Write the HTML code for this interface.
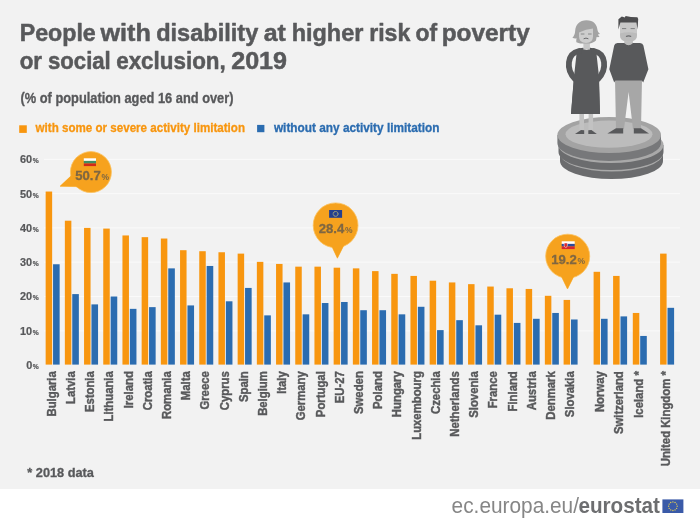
<!DOCTYPE html>
<html lang="en"><head><meta charset="utf-8"><title>People with disability at higher risk of poverty or social exclusion, 2019</title>
<style>html,body{margin:0;padding:0;background:#fff;}body{width:700px;height:524px;overflow:hidden;}svg{display:block;}text{font-family:"Liberation Sans",sans-serif;}</style></head><body>
<svg width="700" height="524" viewBox="0 0 700 524">
<rect x="0" y="0" width="700" height="489" fill="#f2f2f2"/>
<rect x="0" y="489" width="700" height="35" fill="#ffffff"/>
<g fill="#58595b" font-weight="bold">
<text y="41.2" font-size="24" stroke="#58595b" stroke-width="0.5" stroke-linejoin="round"><tspan x="19.70" textLength="76.10" lengthAdjust="spacingAndGlyphs">People</tspan> <tspan x="100.45" textLength="50.35" lengthAdjust="spacingAndGlyphs">with</tspan> <tspan x="156.20" textLength="102.10" lengthAdjust="spacingAndGlyphs">disability</tspan> <tspan x="263.70" textLength="22.10" lengthAdjust="spacingAndGlyphs">at</tspan> <tspan x="291.70" textLength="71.60" lengthAdjust="spacingAndGlyphs">higher</tspan> <tspan x="369.20" textLength="41.10" lengthAdjust="spacingAndGlyphs">risk</tspan> <tspan x="415.45" textLength="21.60" lengthAdjust="spacingAndGlyphs">of</tspan> <tspan x="441.70" textLength="88.10" lengthAdjust="spacingAndGlyphs">poverty</tspan></text>
<text y="68.5" font-size="24" stroke="#58595b" stroke-width="0.5" stroke-linejoin="round"><tspan x="19.70" textLength="22.35" lengthAdjust="spacingAndGlyphs">or</tspan> <tspan x="47.95" textLength="62.85" lengthAdjust="spacingAndGlyphs">social</tspan> <tspan x="116.20" textLength="109.60" lengthAdjust="spacingAndGlyphs">exclusion,</tspan> <tspan x="231.20" textLength="55.85" lengthAdjust="spacingAndGlyphs">2019</tspan></text>
<text x="20.5" y="103.3" font-size="13.8" textLength="213" lengthAdjust="spacingAndGlyphs" stroke="#58595b" stroke-width="0.3">(% of population aged 16 and over)</text>
<text x="27.3" y="476.6" font-size="12.3" textLength="66.6" lengthAdjust="spacingAndGlyphs" stroke="#58595b" stroke-width="0.3">* 2018 data</text>
</g>
<rect x="19.2" y="125.3" width="7.6" height="7.6" fill="#f8960f"/>
<text x="35.6" y="132.2" font-size="12.6" textLength="209.4" lengthAdjust="spacingAndGlyphs" font-weight="bold" fill="#f8960f" stroke="#f8960f" stroke-width="0.3">with some or severe activity limitation</text>
<rect x="257.1" y="124.9" width="7.3" height="7.3" fill="#2b6cb0"/>
<text x="273.9" y="132.2" font-size="12.6" textLength="165.6" lengthAdjust="spacingAndGlyphs" font-weight="bold" fill="#2b6cb0" stroke="#2b6cb0" stroke-width="0.3">without any activity limitation</text>
<g stroke="#fafafa" stroke-width="1">
<line x1="44" x2="680" y1="330.8" y2="330.8"/>
<line x1="44" x2="680" y1="296.5" y2="296.5"/>
<line x1="44" x2="680" y1="262.2" y2="262.2"/>
<line x1="44" x2="680" y1="227.9" y2="227.9"/>
<line x1="44" x2="680" y1="193.6" y2="193.6"/>
<line x1="44" x2="680" y1="159.3" y2="159.3"/>
</g>
<g fill="#58595b" font-weight="bold" stroke="#58595b" stroke-width="0.2">
<text x="32.2" y="369.0" text-anchor="end" font-size="10.9">0</text><text x="32.7" y="369.0" font-size="6.7">%</text>
<text x="32.2" y="334.7" text-anchor="end" font-size="10.9">10</text><text x="32.7" y="334.7" font-size="6.7">%</text>
<text x="32.2" y="300.4" text-anchor="end" font-size="10.9">20</text><text x="32.7" y="300.4" font-size="6.7">%</text>
<text x="32.2" y="266.1" text-anchor="end" font-size="10.9">30</text><text x="32.7" y="266.1" font-size="6.7">%</text>
<text x="32.2" y="231.8" text-anchor="end" font-size="10.9">40</text><text x="32.7" y="231.8" font-size="6.7">%</text>
<text x="32.2" y="197.5" text-anchor="end" font-size="10.9">50</text><text x="32.7" y="197.5" font-size="6.7">%</text>
<text x="32.2" y="163.2" text-anchor="end" font-size="10.9">60</text><text x="32.7" y="163.2" font-size="6.7">%</text>
</g>
<g fill="#f8960f">
<rect x="45.65" y="191.54" width="6.5" height="173.06"/>
<rect x="64.85" y="220.70" width="6.5" height="143.90"/>
<rect x="84.05" y="227.90" width="6.5" height="136.70"/>
<rect x="103.25" y="228.59" width="6.5" height="136.01"/>
<rect x="122.45" y="235.45" width="6.5" height="129.15"/>
<rect x="141.65" y="237.16" width="6.5" height="127.44"/>
<rect x="160.85" y="238.53" width="6.5" height="126.07"/>
<rect x="180.05" y="250.20" width="6.5" height="114.41"/>
<rect x="199.25" y="251.22" width="6.5" height="113.38"/>
<rect x="218.45" y="252.25" width="6.5" height="112.35"/>
<rect x="237.65" y="253.62" width="6.5" height="110.98"/>
<rect x="256.85" y="261.86" width="6.5" height="102.74"/>
<rect x="276.05" y="263.92" width="6.5" height="100.69"/>
<rect x="295.25" y="266.66" width="6.5" height="97.94"/>
<rect x="314.45" y="266.66" width="6.5" height="97.94"/>
<rect x="333.65" y="267.69" width="6.5" height="96.91"/>
<rect x="352.85" y="268.37" width="6.5" height="96.23"/>
<rect x="372.05" y="271.12" width="6.5" height="93.48"/>
<rect x="391.25" y="273.86" width="6.5" height="90.74"/>
<rect x="410.45" y="275.92" width="6.5" height="88.68"/>
<rect x="429.65" y="280.72" width="6.5" height="83.88"/>
<rect x="448.85" y="282.44" width="6.5" height="82.16"/>
<rect x="468.05" y="284.15" width="6.5" height="80.45"/>
<rect x="487.25" y="286.55" width="6.5" height="78.05"/>
<rect x="506.45" y="288.27" width="6.5" height="76.33"/>
<rect x="525.65" y="288.95" width="6.5" height="75.65"/>
<rect x="544.85" y="295.81" width="6.5" height="68.79"/>
<rect x="563.60" y="299.93" width="6.5" height="64.67"/>
<rect x="593.60" y="271.80" width="6.5" height="92.80"/>
<rect x="613.10" y="275.92" width="6.5" height="88.68"/>
<rect x="632.80" y="312.96" width="6.5" height="51.64"/>
<rect x="660.10" y="253.62" width="6.5" height="110.98"/>
</g>
<g fill="#2b6cb0">
<rect x="53.05" y="264.26" width="6.6" height="100.34"/>
<rect x="72.25" y="294.10" width="6.6" height="70.50"/>
<rect x="91.45" y="304.39" width="6.6" height="60.21"/>
<rect x="110.65" y="296.50" width="6.6" height="68.10"/>
<rect x="129.85" y="308.85" width="6.6" height="55.75"/>
<rect x="149.05" y="307.13" width="6.6" height="57.47"/>
<rect x="168.25" y="268.37" width="6.6" height="96.23"/>
<rect x="187.45" y="305.42" width="6.6" height="59.18"/>
<rect x="206.65" y="265.97" width="6.6" height="98.63"/>
<rect x="225.85" y="301.30" width="6.6" height="63.30"/>
<rect x="245.05" y="287.93" width="6.6" height="76.67"/>
<rect x="264.25" y="315.37" width="6.6" height="49.23"/>
<rect x="283.45" y="282.44" width="6.6" height="82.16"/>
<rect x="302.65" y="314.34" width="6.6" height="50.26"/>
<rect x="321.85" y="303.02" width="6.6" height="61.58"/>
<rect x="341.05" y="301.99" width="6.6" height="62.61"/>
<rect x="360.25" y="310.22" width="6.6" height="54.38"/>
<rect x="379.45" y="310.22" width="6.6" height="54.38"/>
<rect x="398.65" y="314.34" width="6.6" height="50.26"/>
<rect x="417.85" y="306.79" width="6.6" height="57.81"/>
<rect x="437.05" y="330.11" width="6.6" height="34.49"/>
<rect x="456.25" y="320.17" width="6.6" height="44.43"/>
<rect x="475.45" y="325.31" width="6.6" height="39.29"/>
<rect x="494.65" y="314.68" width="6.6" height="49.92"/>
<rect x="513.85" y="322.91" width="6.6" height="41.69"/>
<rect x="533.05" y="318.80" width="6.6" height="45.80"/>
<rect x="552.25" y="312.96" width="6.6" height="51.64"/>
<rect x="571.00" y="319.48" width="6.6" height="45.12"/>
<rect x="601.00" y="318.80" width="6.6" height="45.80"/>
<rect x="620.50" y="316.39" width="6.6" height="48.21"/>
<rect x="640.20" y="335.95" width="6.6" height="28.66"/>
<rect x="667.50" y="307.82" width="6.6" height="56.78"/>
</g>
<g fill="#58595b" stroke="#58595b" stroke-width="0.4" font-weight="bold" font-size="12" text-anchor="end">
<text transform="translate(55.75,371.2) rotate(-90) scale(0.945,1)">Bulgaria</text>
<text transform="translate(74.95,371.2) rotate(-90) scale(0.945,1)">Latvia</text>
<text transform="translate(94.15,371.2) rotate(-90) scale(0.945,1)">Estonia</text>
<text transform="translate(113.35,371.2) rotate(-90) scale(0.945,1)">Lithuania</text>
<text transform="translate(132.55,371.2) rotate(-90) scale(0.945,1)">Ireland</text>
<text transform="translate(151.75,371.2) rotate(-90) scale(0.945,1)">Croatia</text>
<text transform="translate(170.95,371.2) rotate(-90) scale(0.945,1)">Romania</text>
<text transform="translate(190.15,371.2) rotate(-90) scale(0.945,1)">Malta</text>
<text transform="translate(209.35,371.2) rotate(-90) scale(0.945,1)">Greece</text>
<text transform="translate(228.55,371.2) rotate(-90) scale(0.945,1)">Cyprus</text>
<text transform="translate(247.75,371.2) rotate(-90) scale(0.945,1)">Spain</text>
<text transform="translate(266.95,371.2) rotate(-90) scale(0.945,1)">Belgium</text>
<text transform="translate(286.15,371.2) rotate(-90) scale(0.945,1)">Italy</text>
<text transform="translate(305.35,371.2) rotate(-90) scale(0.945,1)">Germany</text>
<text transform="translate(324.55,371.2) rotate(-90) scale(0.945,1)">Portugal</text>
<text transform="translate(343.75,371.2) rotate(-90) scale(0.945,1)">EU-27</text>
<text transform="translate(362.95,371.2) rotate(-90) scale(0.945,1)">Sweden</text>
<text transform="translate(382.15,371.2) rotate(-90) scale(0.945,1)">Poland</text>
<text transform="translate(401.35,371.2) rotate(-90) scale(0.945,1)">Hungary</text>
<text transform="translate(420.55,371.2) rotate(-90) scale(0.945,1)">Luxembourg</text>
<text transform="translate(439.75,371.2) rotate(-90) scale(0.945,1)">Czechia</text>
<text transform="translate(458.95,371.2) rotate(-90) scale(0.945,1)">Netherlands</text>
<text transform="translate(478.15,371.2) rotate(-90) scale(0.945,1)">Slovenia</text>
<text transform="translate(497.35,371.2) rotate(-90) scale(0.945,1)">France</text>
<text transform="translate(516.55,371.2) rotate(-90) scale(0.945,1)">Finland</text>
<text transform="translate(535.75,371.2) rotate(-90) scale(0.945,1)">Austria</text>
<text transform="translate(554.95,371.2) rotate(-90) scale(0.945,1)">Denmark</text>
<text transform="translate(573.70,371.2) rotate(-90) scale(0.945,1)">Slovakia</text>
<text transform="translate(603.70,371.2) rotate(-90) scale(0.945,1)">Norway</text>
<text transform="translate(623.20,371.2) rotate(-90) scale(0.945,1)">Switzerland</text>
<text transform="translate(642.90,371.2) rotate(-90) scale(0.945,1)">Iceland *</text>
<text transform="translate(670.20,371.2) rotate(-90) scale(0.945,1)">United Kingdom *</text>
</g>
<g><path d="M60,186.3 L72,175 L84,190 L76,186.6 Z" fill="#f6a21e" stroke="#fbc15e" stroke-width="0.8" stroke-linejoin="round"/><circle cx="90.9" cy="172.1" r="20.5" fill="#f6a21e" stroke="#fbc15e" stroke-width="0.8"/><path d="M60,186.3 L72,175 L84,190 L76,186.6 Z" fill="#f6a21e"/><g><rect x="83.8" y="158.3" width="12.2" height="2.6" fill="#ffffff"/><rect x="83.8" y="160.9" width="12.2" height="2.6" fill="#3f8f63"/><rect x="83.8" y="163.5" width="12.2" height="2.6" fill="#d1291a"/></g><text x="75.3" y="179.6" font-size="13.1" font-weight="bold" fill="#7f6742" stroke="#7f6742" stroke-width="0.3">50.7</text><text x="101.5" y="179.6" font-size="8.5" font-weight="bold" fill="#7f6742">%</text></g>
<g><path d="M337.4,258.2 L331.2,245 L344,245 Z" fill="#f6a21e" stroke="#fbc15e" stroke-width="0.8" stroke-linejoin="round"/><circle cx="335.6" cy="225.3" r="22.4" fill="#f6a21e" stroke="#fbc15e" stroke-width="0.8"/><path d="M337.4,258.2 L331.2,245 L344,245 Z" fill="#f6a21e"/><g><rect x="329.1" y="210" width="13" height="7.8" fill="#24408e"/><circle cx="335.6" cy="213.9" r="2.4" fill="none" stroke="#e9d66b" stroke-width="0.9" stroke-dasharray="0.9 0.36"/></g><text x="318.8" y="232.8" font-size="13.1" font-weight="bold" fill="#7f6742" stroke="#7f6742" stroke-width="0.3">28.4</text><text x="345.0" y="232.8" font-size="8.5" font-weight="bold" fill="#7f6742">%</text></g>
<g><path d="M567.5,289 L561.2,276 L574,276 Z" fill="#f6a21e" stroke="#fbc15e" stroke-width="0.8" stroke-linejoin="round"/><circle cx="567.7" cy="256.2" r="22" fill="#f6a21e" stroke="#fbc15e" stroke-width="0.8"/><path d="M567.5,289 L561.2,276 L574,276 Z" fill="#f6a21e"/><g><rect x="561.7" y="241.3" width="13" height="2.6" fill="#ffffff"/><rect x="561.7" y="243.9" width="13" height="2.6" fill="#2a4b9b"/><rect x="561.7" y="246.5" width="13" height="2.6" fill="#d8262c"/><path d="M564.2,243 h3.2 v2.6 q0,1.4 -1.6,2 q-1.6,-0.6 -1.6,-2 Z" fill="#d8262c" stroke="#ffffff" stroke-width="0.5"/></g><text x="551.2" y="263.7" font-size="13.1" font-weight="bold" fill="#7f6742" stroke="#7f6742" stroke-width="0.3">19.2</text><text x="577.4" y="263.7" font-size="8.5" font-weight="bold" fill="#7f6742">%</text></g>
<g><path d="M560.0,153.5 v7.5 a51.5,18 0 0 0 103.0,0 v-7.5 Z" fill="#6b6c6e"/><ellipse cx="611.5" cy="153.5" rx="51.5" ry="18" fill="#a9a9a9"/><path d="M558.5,145 v7 a52.5,18 0 0 0 105.0,0 v-7 Z" fill="#6b6c6e"/><ellipse cx="611" cy="145" rx="52.5" ry="18" fill="#a9a9a9"/><path d="M557.4000000000001,135 v8 a51.8,18 0 0 0 103.6,0 v-8 Z" fill="#77787a"/><ellipse cx="609.2" cy="135" rx="51.8" ry="18" fill="#a3a3a3"/><ellipse cx="609" cy="134.2" rx="43.5" ry="13.6" fill="#bcbcbc"/><rect x="579.4" y="112" width="4.6" height="20" fill="#c2c2c2"/><rect x="588.6" y="112" width="4.5" height="20" fill="#c2c2c2"/><path d="M575,134 L584.2,134 L584.2,130.2 L581,130 Z" fill="#58595b"/><path d="M588.3,130.2 L588.3,134 L596.8,134 L591.5,130 Z" fill="#58595b"/><path d="M577,49.5 Q580,47.8 583.2,47.8 Q586.6,52 590,47.8 Q593.5,47.8 596,49.5 L598.5,72 L600,114 L571,114 L574.5,72 Z" fill="#58595b"/><path d="M579,51 C567.2,53.4 565.4,69 575,79" fill="none" stroke="#58595b" stroke-width="5.8" stroke-linecap="round"/><path d="M594,51 C605.8,53.4 607.6,69 598,79" fill="none" stroke="#58595b" stroke-width="5.8" stroke-linecap="round"/><path d="M574,76 L599,76 L600,114 L571,114 Z" fill="#58595b"/><rect x="583.4" y="40" width="6.5" height="9.6" fill="#c6c6c6"/><path d="M586.5,20.2 C579.5,20.2 575.6,25 575.2,30.5 C575,34 574,36.2 572.4,37.7 C574.2,38.6 575.6,38.5 576.6,38.2 C576.2,40 576.2,41.2 576.4,42.3 C579,43.6 582,43.6 584,43.4 L590,43.4 C592.5,43.2 594.5,42 595.9,40.6 C596.3,39 596.5,38 596.6,37 C597.8,37.3 598.8,37.2 599.6,36.6 C598.5,35.8 598.2,35 598,34.2 C598.8,34.3 599.4,34.1 599.9,33.7 C598.2,32.5 597.6,31 597.4,29.5 C597,24.5 593.5,20.2 586.5,20.2 Z" fill="#a3a3a3"/><path d="M579,32.6 L579,36.5 Q579,43 586,43 Q593,43 593,36.5 L593,28.6 Q586,29.2 579,32.6 Z" fill="#cdcdcd"/><path d="M580.8,34 h3.6 M588,34 h3.6" stroke="#77787a" stroke-width="0.8" fill="none"/><path d="M583.6,38.8 q2.4,-1.4 4.8,0" stroke="#6a6b6d" stroke-width="1" fill="none"/><path d="M615,79 L642,79 L641,129 L633,129 L628.6,92 L624,129 L616,129 Z" fill="#a7a7a7"/><path d="M607.4,133.6 L623.2,133.6 L623.2,128.2 L616,128.2 Z" fill="#58595b"/><path d="M633.8,128.2 L633.8,133.6 L649,133.6 L641,128.2 Z" fill="#58595b"/><rect x="624.3" y="36" width="8.6" height="10" fill="#bdbdbd"/><path d="M617.5,43 L624.2,43 Q628.6,47.4 633,43 L640,43 Q642.8,43 643.4,45.6 L648.4,69.2 L643.2,82.5 L641.8,80.4 L615.4,80.4 L614.2,82.5 L609.3,69.2 L614.2,45.6 Q614.8,43 617.5,43 Z" fill="#58595b"/><path d="M620,20.5 L637,20.5 L637,35 Q637,41.8 628.5,41.8 Q620,41.8 620,35 Z" fill="#c8c8c8"/><path d="M620,33.5 Q628.5,31 637,33.5 L637,35 Q637,41.8 628.5,41.8 Q620,41.8 620,35 Z" fill="#bbbbbb"/><path d="M618.4,29.5 L618.4,19.2 L621.8,16.4 L624.8,17.6 L625.6,16 L631,16.9 L637.4,17.2 L638.2,19 L637.6,29.5 L636.4,22.4 L620.4,22.4 Z" fill="#4d4d4f"/><path d="M622,28.6 h4.2 M630.6,28.6 h4.2" stroke="#6a6b6d" stroke-width="0.8" fill="none"/><path d="M626,36.6 q2.6,-1.4 5.2,0" stroke="#6a6b6d" stroke-width="1.1" fill="none"/></g>
<text x="451.6" y="513" font-size="21.4" textLength="127.4" lengthAdjust="spacingAndGlyphs" fill="#868686">ec.europa.eu/</text>
<text x="578.4" y="513" font-size="21.4" textLength="81.6" lengthAdjust="spacingAndGlyphs" font-weight="bold" fill="#6d6e70">eurostat</text>
<g><rect x="662.4" y="499.4" width="21" height="13.6" fill="#3a5aa8"/><circle cx="672.90" cy="501.90" r="0.65" fill="#f3d94a"/><circle cx="675.05" cy="502.48" r="0.65" fill="#f3d94a"/><circle cx="676.62" cy="504.05" r="0.65" fill="#f3d94a"/><circle cx="677.20" cy="506.20" r="0.65" fill="#f3d94a"/><circle cx="676.62" cy="508.35" r="0.65" fill="#f3d94a"/><circle cx="675.05" cy="509.92" r="0.65" fill="#f3d94a"/><circle cx="672.90" cy="510.50" r="0.65" fill="#f3d94a"/><circle cx="670.75" cy="509.92" r="0.65" fill="#f3d94a"/><circle cx="669.18" cy="508.35" r="0.65" fill="#f3d94a"/><circle cx="668.60" cy="506.20" r="0.65" fill="#f3d94a"/><circle cx="669.18" cy="504.05" r="0.65" fill="#f3d94a"/><circle cx="670.75" cy="502.48" r="0.65" fill="#f3d94a"/></g>
</svg></body></html>
